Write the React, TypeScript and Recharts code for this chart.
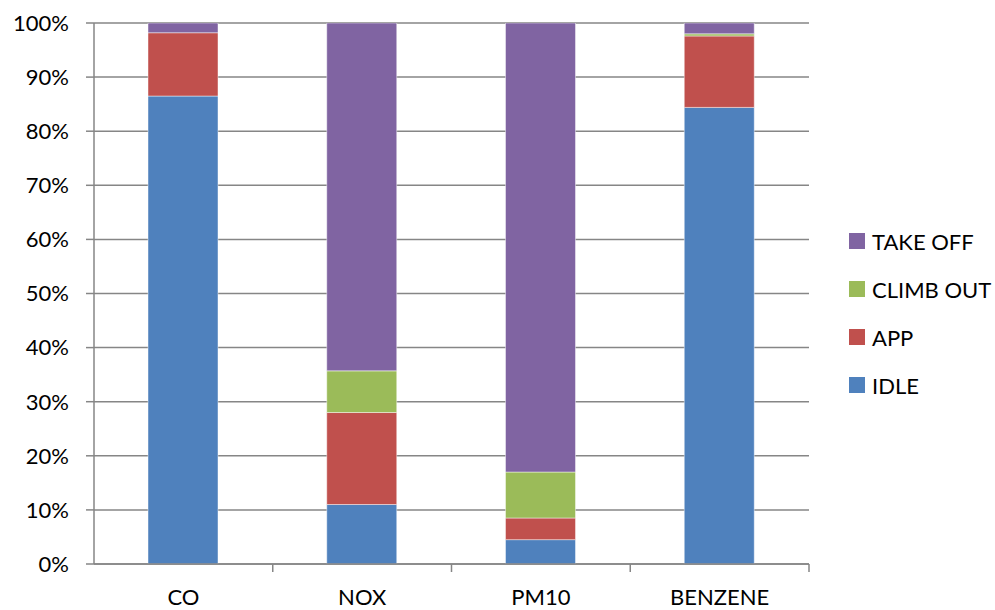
import React from "react";
import { BarChart, Bar, XAxis, YAxis, CartesianGrid } from "recharts";

// Share of each pollutant's emissions by flight phase (percent of total)
const pollutants = ["CO", "NOX", "PM10", "BENZENE"];
const idle = [86.5, 11.0, 4.5, 84.4];
const app = [11.7, 17.0, 4.0, 13.2];
const climbOut = [0.0, 7.7, 8.5, 0.4];
const takeOff = [1.8, 64.3, 83.0, 2.0];
const yTicks = [0, 10, 20, 30, 40, 50, 60, 70, 80, 90, 100];

const series = [
  { key: "IDLE", values: idle, color: "#4F81BD" },
  { key: "APP", values: app, color: "#C0504D" },
  { key: "CLIMB OUT", values: climbOut, color: "#9BBB59" },
  { key: "TAKE OFF", values: takeOff, color: "#8064A2" },
];

const data = pollutants.map((name, i) => {
  const row: Record<string, number | string> = { name };
  series.forEach((s) => {
    row[s.key] = s.values[i];
  });
  return row;
});

const FONT = "Lato, 'Open Sans', sans-serif";
const FONT_SIZE = 22;
const AXIS_COLOR = "#868686";
const TICK_SIZE = 8;
const TICK_MARGIN = 17;

// Category label centred under each bar, with a tick mark on the band's right edge
const CategoryTick = (props: any) => {
  const { x, y, payload } = props;
  const half = payload && typeof payload.offset === "number" ? payload.offset : 0;
  const axisY = y - TICK_MARGIN - TICK_SIZE;
  return (
    <g>
      <line
        x1={x + half}
        x2={x + half}
        y1={axisY}
        y2={axisY + TICK_SIZE}
        stroke={AXIS_COLOR}
        strokeWidth={1.5}
      />
      <text
        x={x}
        y={y}
        dy="0.71em"
        textAnchor="middle"
        fill="#000"
        fontSize={FONT_SIZE}
        fontFamily={FONT}
      >
        {payload.value}
      </text>
    </g>
  );
};

// Legend listed top to bottom in stacking order, top segment first
const LegendList = () => (
  <div
    style={{
      position: "absolute",
      left: 849,
      top: 217,
      width: 146,
      fontFamily: FONT,
      fontSize: FONT_SIZE,
      color: "#000",
    }}
  >
    {[...series].reverse().map((s) => (
      <div
        key={s.key}
        style={{ display: "flex", alignItems: "center", height: 48, whiteSpace: "nowrap" }}
      >
        <span
          style={{
            display: "inline-block",
            width: 16,
            height: 16,
            background: s.color,
            marginRight: 7,
            flex: "none",
          }}
        />
        <span>{s.key}</span>
      </div>
    ))}
  </div>
);

export default function App() {
  return (
    <div
      style={{
        position: "absolute",
        left: 0,
        top: 0,
        width: 995,
        height: 610,
        background: "#fff",
      }}
    >
      <BarChart
        width={995}
        height={610}
        data={data}
        margin={{ top: 23, right: 186, bottom: 0, left: 0 }}
      >
        <CartesianGrid
          vertical={false}
          horizontal={true}
          stroke={AXIS_COLOR}
          strokeWidth={1.5}
        />
        <XAxis
          dataKey="name"
          height={46}
          axisLine={{ stroke: AXIS_COLOR, strokeWidth: 1.5 }}
          tickLine={false}
          tickSize={TICK_SIZE}
          tickMargin={TICK_MARGIN}
          tick={<CategoryTick />}
          interval={0}
        />
        <YAxis
          width={94}
          domain={[0, 100]}
          ticks={yTicks}
          interval={0}
          allowDataOverflow
          tickFormatter={(v: number) => `${v}%`}
          axisLine={{ stroke: AXIS_COLOR, strokeWidth: 1.5 }}
          tickLine={{ stroke: AXIS_COLOR, strokeWidth: 1.5 }}
          tickSize={TICK_SIZE}
          tickMargin={TICK_MARGIN}
          tick={{ fill: "#000", fontSize: FONT_SIZE, fontFamily: FONT }}
        />
        {series.map((s) => (
          <Bar
            key={s.key}
            dataKey={s.key}
            stackId="phase"
            fill={s.color}
            barSize={70}
            stroke="rgba(255,255,255,0.45)"
            strokeWidth={1}
            isAnimationActive={false}
          />
        ))}
      </BarChart>
      <LegendList />
    </div>
  );
}
